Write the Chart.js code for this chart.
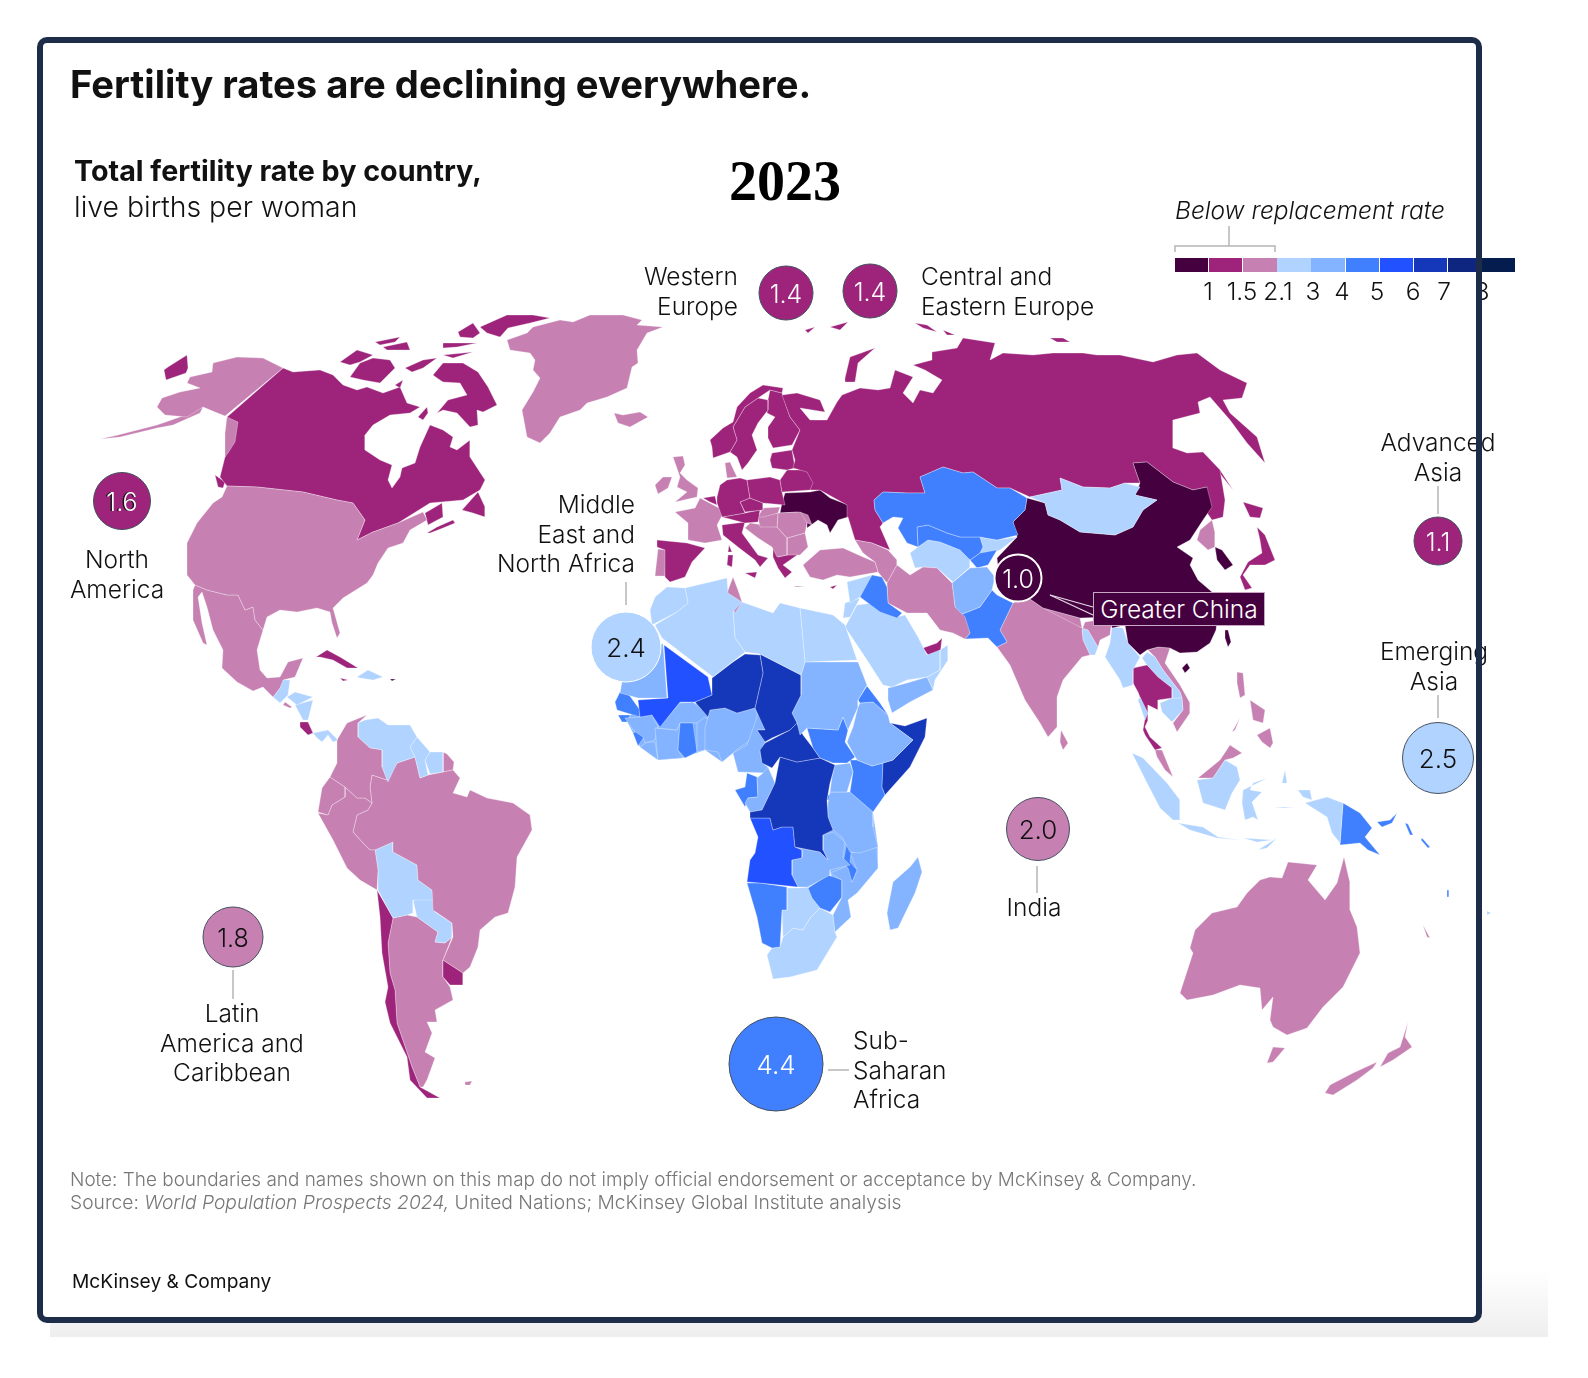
<!DOCTYPE html>
<html>
<head>
<meta charset="utf-8">
<title>Fertility rates are declining everywhere.</title>
<script src="https://cdn.jsdelivr.net/npm/chart.js@4"></script>
<style>
  html, body { margin: 0; padding: 0; background: #fff; }
  body { position: relative; width: 1588px; height: 1378px; overflow: hidden; font-family: Inter, Roboto, sans-serif; color: #111; }
  #fade  { position: absolute; left: 50px; top: 1270px; width: 1498px; height: 67px; background: linear-gradient(#fff, #eee); }
  #paper { position: absolute; left: 37px; top: 37px; width: 1445px; height: 1286px; background: #fff; border-radius: 10px; }
  #frame { position: absolute; left: 37px; top: 37px; width: 1433px; height: 1274px; border: 6px solid #1d2c49; border-radius: 10px; z-index: 5; }
  #map   { position: absolute; left: 0; top: 0; }
  .t     { position: absolute; white-space: nowrap; z-index: 3; font-size: 24.5px; line-height: 29.5px; font-weight: 300; }
  .swatch { position: absolute; top: 258px; height: 14px; z-index: 2; }
</style>
</head>
<body>
<div id="fade"></div>
<div id="paper"></div>
<canvas id="map" width="1588" height="1378"></canvas>
<div id="frame"></div>

<div class="t" style="left:70px;top:60px;font-size:38.2px;line-height:48px;font-weight:700">Fertility rates are declining everywhere.</div>
<div class="t" style="left:74px;top:154px;font-size:28.7px;line-height:34px;font-weight:700">Total fertility rate by country,</div>
<div class="t" style="left:74px;top:190px;font-size:28.4px;line-height:34px">live births per woman</div>
<div class="t" style="left:729px;top:148px;font-family:'Liberation Serif';font-size:56px;line-height:66px;font-weight:700;color:#000">2023</div>
<div class="t" style="left:1175px;top:196px;font-style:italic">Below replacement rate</div>

<div class="t" style="right:850px;top:262px;text-align:right">Western<br>Europe</div>
<div class="t" style="left:921px;top:262px">Central and<br>Eastern Europe</div>
<div class="t" style="left:17px;width:200px;top:545px;text-align:center">North<br>America</div>
<div class="t" style="right:953px;top:490px;text-align:right">Middle<br>East and<br>North Africa</div>
<div class="t" style="left:132px;width:200px;top:999px;text-align:center">Latin<br>America and<br>Caribbean</div>
<div class="t" style="left:853px;top:1026px">Sub-<br>Saharan<br>Africa</div>
<div class="t" style="left:984px;width:100px;top:893px;text-align:center">India</div>
<div class="t" style="left:1338px;width:200px;top:428px;text-align:center">Advanced<br>Asia</div>
<div class="t" style="left:1334px;width:200px;top:637px;text-align:center">Emerging<br>Asia</div>

<div class="t" style="left:1093px;top:592px;width:170px;height:32px;line-height:32px;background:#45003f;border:1px solid #c9a8c4;color:#fff;text-align:center">Greater China</div>

<div class="t" style="left:70px;top:1168px;font-size:18.95px;line-height:23px;color:#777">Note: The boundaries and names shown on this map do not imply official endorsement or acceptance by McKinsey &amp; Company.<br><span style="font-size:19.25px">Source: <i>World Population Prospects 2024,</i> United Nations; McKinsey Global Institute analysis</span></div>
<div class="t" style="left:72px;top:1269px;font-size:19.2px;line-height:24px;font-weight:400">McKinsey &amp; Company</div>

<script>
// legend classes: upper bound of each class, colour of each class
const rateBreaks = [1, 1.5, 2.1, 3, 4, 5, 6, 7, 8, Infinity];
const rateColors = ['#45003f', '#9e237b', '#c680b2', '#b0d3ff', '#84b4ff', '#4080ff', '#2251ff', '#1537ba', '#0f2680', '#051c4f'];
const legendTicks = ['1', '1.5', '2.1', '3', '4', '5', '6', '7', '8'];
const legendTickX = [1208, 1242, 1278, 1313, 1342, 1377, 1413, 1444, 1482];

// regional averages, bubble centre and radius are in map units
const regionNames = ['North America', 'Latin America and Caribbean', 'Middle East and North Africa', 'Sub-Saharan Africa', 'India', 'Emerging Asia', 'Advanced Asia', 'Greater China', 'Western Europe', 'Central and Eastern Europe'];
const regionRates = [1.6, 1.8, 2.4, 4.4, 2.0, 2.5, 1.1, 1.0, 1.4, 1.4];
const regionClass = [1, 2, 3, 5, 2, 3, 1, 0, 1, 1];
const regionX = [122, 233, 626, 776, 1038, 1438, 1438, 1018, 786, 870];
const regionY = [501, 937, 647, 1064, 829, 758, 541, 578, 293, 291];
const regionR = [28.5, 30, 35, 47, 31.5, 35.5, 24, 23.5, 27, 27];

const leaderLines = [
  [[626, 582], [626, 605]], [[1438, 695], [1438, 718]], [[1438, 486], [1438, 514]],
  [[1037, 866], [1037, 893]], [[233, 970], [233, 999]], [[828, 1070], [849, 1070]]
];
const chinaLeaders = [[[1050, 595], [1093, 607]], [[1050, 595], [1093, 615]]];
const bracket = [[1175, 252], [1175, 246], [1275, 246], [1275, 252]];
const bracketStem = [[1229, 246], [1229, 226]];

// land under the small African states, so their outlines leave no gaps
const westAfricaLand = [[625,718],[658,700],[765,710],[765,770],[738,772],[733,753],[722,762],[705,750],[683,758],[658,760],[640,747],[633,733]];
const eastAfricaLand = [[830,792],[850,792],[873,812],[878,847],[878,868],[857,893],[842,897],[830,873],[823,835]];

// country outlines, traced in map units
const alaska = [[283,368],[263,358],[237,357],[213,363],[212,372],[190,377],[187,383],[200,388],[180,392],[162,398],[157,407],[165,415],[187,417],[203,407],[215,412],[225,416]];
const aleutians = [[203,407],[180,417],[157,425],[118,435],[100,439],[120,437],[157,428],[173,425],[200,413]];
const panhandle = [[227,417],[238,422],[235,442],[228,453],[225,457],[225,433]];
const chukotka = [[164,370],[168,367],[187,355],[188,368],[186,373],[166,380]];
const canada = [[283,368],[293,372],[320,370],[333,375],[343,385],[357,390],[367,387],[383,393],[400,387],[407,403],[420,407],[410,413],[390,415],[373,425],[365,435],[365,450],[380,460],[392,465],[388,480],[392,488],[400,477],[402,468],[415,463],[420,447],[430,425],[443,430],[453,437],[450,447],[457,450],[470,440],[470,457],[485,480],[480,490],[463,500],[430,503],[398,523],[373,532],[357,540],[365,520],[353,503],[337,500],[303,492],[257,487],[227,486],[220,477],[225,457],[227,417]];
const vancouver = [[215,475],[225,482],[223,488],[218,487]];
const newfoundland = [[462,510],[478,492],[485,507],[485,517],[473,513]];
const novaScotia = [[427,533],[437,527],[453,520],[455,523],[443,528],[430,533]];
const newBrunswick = [[425,513],[442,503],[443,517],[428,525]];
const ellesmere = [[480,327],[507,315],[533,315],[550,318],[530,323],[508,328],[500,337],[487,333]];
const axelHeiberg = [[458,332],[473,323],[480,333],[473,338],[460,337]];
const devon = [[443,343],[477,343],[457,347],[443,348]];
const melville = [[375,342],[400,337],[395,342],[380,345]];
const bathurst = [[383,347],[407,342],[410,350],[387,350]];
const banks = [[340,362],[357,350],[373,355],[360,362],[350,365]];
const victoria = [[350,377],[360,363],[373,358],[390,360],[395,368],[380,383],[363,380]];
const princeWales = [[405,368],[423,360],[437,358],[423,368],[412,372]];
const somerset = [[443,355],[473,352],[453,358]];
const baffin = [[433,375],[443,363],[463,363],[478,372],[488,387],[497,405],[483,412],[477,410],[478,425],[470,427],[457,413],[443,410],[437,413],[448,400],[467,395],[460,383],[443,382],[437,378]];
const southampton = [[418,417],[427,407],[428,413],[423,420]];
const kingWilliam = [[395,385],[403,380],[400,388]];
const usa = [[227,486],[257,487],[303,492],[337,500],[353,503],[365,520],[357,540],[373,532],[398,523],[423,512],[427,520],[410,530],[403,543],[388,548],[378,563],[373,575],[367,583],[343,598],[333,608],[340,633],[337,638],[332,623],[330,612],[317,608],[297,612],[280,610],[267,617],[263,630],[255,620],[253,607],[245,610],[238,595],[227,595],[207,590],[195,585],[187,575],[187,543],[197,523],[213,503],[222,497]];
const mexico = [[195,585],[207,590],[227,595],[238,595],[245,610],[253,607],[255,620],[263,630],[257,650],[260,670],[267,678],[280,677],[288,662],[303,658],[295,677],[283,680],[280,688],[273,697],[263,687],[253,691],[237,682],[222,668],[223,650],[213,630],[207,607],[202,592],[198,597],[202,623],[207,645],[203,643],[193,620],[193,590]];
const guatemala = [[282,680],[290,680],[288,695],[280,703],[273,697],[280,688]];
const honduras = [[287,697],[295,692],[313,697],[297,705]];
const nicaragua = [[295,705],[313,700],[308,720],[303,720]];
const costaRica = [[300,722],[308,722],[313,733],[308,735],[300,727]];
const panama = [[313,733],[328,730],[338,740],[333,742],[328,735],[322,742],[317,738]];
const salvador = [[285,702],[292,707],[290,708],[283,705]];
const cuba = [[316,657],[327,650],[340,657],[358,668],[347,668],[333,660],[320,657]];
const hispaniola = [[357,677],[368,670],[383,677],[373,680],[360,678]];
const jamaica = [[340,678],[348,680],[343,681]];
const puertoRico = [[390,679],[396,679],[392,681]];
const colombia = [[367,715],[358,723],[358,737],[370,748],[382,750],[382,767],[387,780],[372,775],[370,787],[372,803],[365,798],[357,798],[345,787],[330,777],[337,763],[337,740],[347,723]];
const venezuela = [[358,723],[365,720],[378,718],[388,725],[410,725],[417,737],[410,747],[415,757],[397,763],[388,782],[387,780],[382,767],[382,750],[370,748],[358,737]];
const guyana = [[417,737],[430,752],[425,760],[428,775],[420,778],[415,757],[410,747]];
const suriname = [[430,752],[443,752],[443,772],[430,774],[425,760]];
const ecuador = [[330,777],[345,787],[345,797],[332,805],[328,815],[318,812],[322,788]];
const peru = [[345,787],[357,798],[365,798],[372,803],[368,810],[357,815],[353,832],[363,843],[370,850],[375,850],[378,870],[377,890],[360,880],[347,868],[333,840],[318,813],[328,815],[332,805],[345,797]];
const brazil = [[387,780],[397,763],[415,757],[420,778],[428,775],[443,772],[453,770],[460,778],[453,793],[467,797],[470,790],[487,798],[513,803],[530,815],[532,830],[517,857],[515,887],[508,913],[495,917],[480,930],[478,947],[470,967],[463,973],[443,960],[453,937],[452,923],[433,910],[432,890],[418,880],[417,865],[393,852],[393,842],[375,850],[370,850],[363,843],[353,832],[357,815],[368,810],[372,803],[370,787],[372,775]];
const frenchGuiana = [[443,772],[453,770],[454,762],[447,754],[443,752]];
const bolivia = [[375,850],[393,842],[393,852],[417,865],[418,880],[432,890],[433,900],[413,900],[413,913],[407,915],[393,918],[378,890],[378,870]];
const paraguay = [[413,900],[432,897],[435,912],[452,923],[452,937],[445,943],[435,942],[438,932],[417,917]];
const uruguay = [[443,960],[463,973],[463,985],[450,985],[443,977]];
const chile = [[377,890],[393,918],[388,943],[390,973],[395,990],[397,1023],[412,1067],[420,1087],[440,1098],[427,1098],[410,1080],[407,1057],[390,1023],[385,1002],[388,987],[382,953],[380,917]];
const argentina = [[393,918],[407,915],[417,917],[438,932],[435,942],[445,943],[452,937],[443,960],[443,977],[450,987],[453,1000],[435,1010],[437,1022],[427,1022],[432,1033],[425,1052],[435,1058],[427,1080],[423,1087],[420,1087],[412,1067],[397,1023],[395,990],[390,973],[388,943]];
const falklands = [[465,1082],[472,1081],[470,1085],[466,1085]];
const morocco = [[650,610],[655,597],[667,587],[685,588],[688,603],[677,612],[652,625]];
const algeria = [[685,588],[727,578],[728,593],[742,602],[733,612],[735,638],[745,652],[713,677],[662,638],[655,625],[677,612],[688,603]];
const tunisia = [[727,593],[733,577],[738,590],[742,602],[735,613]];
const libya = [[742,602],[773,613],[780,603],[800,608],[805,662],[801,675],[760,654],[745,652],[735,638],[733,612]];
const egypt = [[800,608],[833,615],[845,625],[857,660],[805,662]];
const mauritania = [[663,643],[667,698],[638,698],[620,693],[622,682]];
const mali = [[664,645],[708,677],[712,695],[695,702],[680,702],[668,717],[660,727],[652,715],[640,717],[638,700],[668,698]];
const niger = [[745,654],[760,655],[763,673],[755,708],[737,713],[725,708],[710,710],[708,717],[695,702],[712,695],[712,678],[733,662]];
const chad = [[760,654],[801,675],[801,695],[792,713],[797,723],[790,730],[772,738],[765,742],[757,730],[765,730],[755,708],[763,673]];
const sudan = [[805,662],[858,662],[867,685],[858,700],[858,707],[848,730],[843,717],[838,730],[807,728],[800,735],[797,723],[792,713],[801,695],[801,675]];
const eritrea = [[867,686],[880,703],[888,715],[873,702],[860,703],[858,700]];
const ethiopia = [[860,703],[873,702],[888,715],[890,723],[913,740],[893,760],[883,763],[872,766],[857,760],[847,742],[853,727],[858,707]];
const somalia = [[890,723],[905,726],[927,718],[925,737],[910,767],[885,795],[882,787],[883,763],[893,760],[913,740]];
const southSudan = [[807,728],[838,730],[843,717],[848,730],[845,742],[855,757],[847,763],[833,763],[820,758],[813,748]];
const car = [[765,743],[790,730],[797,723],[803,735],[813,748],[820,758],[797,762],[780,757],[772,768],[762,763],[760,750]];
const drc = [[780,757],[797,762],[820,758],[835,765],[830,783],[827,800],[828,817],[833,830],[823,835],[823,850],[828,860],[820,852],[795,847],[793,827],[782,827],[773,830],[770,818],[750,818],[750,812],[762,810],[775,783]];
const congo = [[768,767],[775,783],[762,810],[750,812],[745,803],[748,798],[758,797],[757,778],[763,773]];
const gabon = [[735,790],[745,787],[747,773],[757,777],[758,797],[748,798],[745,807]];
const cameroon = [[733,753],[747,745],[755,723],[758,713],[765,730],[757,730],[765,742],[760,752],[762,763],[768,767],[767,773],[738,772],[737,768]];
const nigeria = [[705,728],[710,710],[725,708],[737,713],[755,708],[760,723],[748,742],[740,747],[733,753],[722,762],[718,752],[705,750]];
const benin = [[697,723],[705,717],[710,720],[705,750],[697,752]];
const ghana = [[680,723],[693,723],[697,752],[685,758],[678,750]];
const burkina = [[668,717],[680,703],[693,702],[710,717],[697,723],[680,723],[677,730],[657,728]];
const ivoryCoast = [[655,728],[677,730],[680,723],[678,750],[683,758],[658,760],[657,750]];
const guinea = [[625,718],[640,717],[652,715],[658,727],[655,740],[645,743],[643,737],[633,730]];
const sierraLeone = [[633,733],[640,730],[644,737],[638,746]];
const liberia = [[640,747],[647,742],[655,742],[658,760]];
const senegal = [[620,692],[627,692],[640,710],[640,717],[617,710],[615,702]];
const guineaBissau = [[618,715],[630,715],[627,722],[622,722]];
const uganda = [[835,765],[850,763],[853,772],[847,792],[830,792],[832,777]];
const kenya = [[850,760],[857,760],[872,766],[883,763],[882,787],[885,795],[873,812],[850,792],[853,772]];
const tanzania = [[830,792],[850,792],[873,812],[873,827],[878,847],[860,853],[850,852],[842,837],[833,830],[828,817],[828,803]];
const rwanda = [[828,795],[835,793],[833,800],[827,800]];
const angola = [[750,818],[770,818],[773,830],[782,827],[793,827],[795,847],[802,850],[802,858],[792,860],[792,875],[798,887],[760,883],[747,882],[750,860],[755,853],[758,837]];
const zambia = [[795,847],[820,852],[828,860],[823,850],[823,835],[833,832],[845,842],[843,858],[850,865],[830,870],[830,875],[817,882],[808,887],[798,887],[792,875],[792,860],[802,858],[802,850]];
const malawi = [[847,842],[852,843],[850,862],[857,870],[852,882],[848,868],[843,863]];
const mozambique = [[850,853],[877,847],[878,868],[857,893],[848,900],[851,917],[835,932],[833,915],[842,897],[842,880],[830,873],[850,865],[852,882],[857,870]];
const zimbabwe = [[808,888],[828,875],[842,880],[842,897],[830,912],[820,908],[812,898]];
const namibia = [[747,883],[760,883],[787,887],[787,910],[782,910],[780,947],[772,948],[762,943],[757,917]];
const botswana = [[787,888],[798,888],[808,887],[812,898],[820,908],[810,918],[803,930],[793,928],[783,937],[782,910],[787,910]];
const southAfrica = [[783,937],[793,928],[803,930],[810,918],[820,908],[833,915],[835,932],[837,937],[817,970],[790,977],[773,979],[767,955],[772,948],[780,947]];
const lesotho = [[811,953],[817,948],[821,953],[815,959]];
const madagascar = [[918,857],[922,872],[915,893],[898,928],[890,930],[887,913],[893,882],[910,867]];
const iraq = [[872,575],[882,577],[887,587],[888,603],[902,613],[897,618],[880,612],[860,597]];
const syria = [[847,582],[872,575],[867,587],[860,597],[850,603]];
const jordan = [[845,603],[860,598],[850,617],[843,618]];
const saudi = [[845,627],[857,605],[873,603],[897,617],[905,615],[918,637],[927,655],[940,650],[940,670],[927,677],[907,680],[892,687],[883,685],[867,660]];
const yemen = [[888,688],[907,683],[927,677],[933,690],[910,702],[892,713],[888,700]];
const oman = [[927,677],[940,670],[940,650],[948,645],[948,660],[935,680],[933,690]];
const uae = [[923,648],[937,643],[942,638],[940,655],[928,655]];
const iran = [[887,583],[897,565],[910,575],[923,567],[937,568],[952,583],[955,607],[965,617],[970,633],[965,639],[953,633],[940,630],[927,613],[907,613],[888,603]];
const turkey = [[803,565],[820,550],[843,548],[863,557],[875,562],[878,572],[850,577],[837,575],[823,580],[810,577]];
const caucasus = [[855,540],[872,543],[888,550],[897,560],[897,565],[887,583],[878,572],[875,562],[863,553]];
const kazakhstan = [[874,500],[883,492],[907,493],[925,493],[920,477],[943,467],[963,473],[973,472],[997,488],[1010,488],[1027,498],[1025,510],[1013,522],[1018,535],[997,540],[980,537],[960,537],[947,533],[928,525],[917,527],[918,547],[907,543],[898,528],[903,518],[893,517],[883,523],[875,510]];
const uzbekistan = [[917,527],[928,525],[947,533],[960,537],[980,537],[983,547],[980,553],[970,560],[960,550],[940,542],[928,540],[918,547]];
const turkmenistan = [[910,553],[918,547],[928,540],[940,542],[960,550],[970,560],[970,567],[953,582],[937,568],[923,567],[915,568]];
const afghanistan = [[952,583],[970,568],[987,567],[995,577],[992,590],[980,607],[960,615],[955,607]];
const pakistan = [[960,615],[980,607],[992,590],[997,595],[1013,603],[1000,630],[1007,642],[997,647],[988,638],[965,639],[970,633]];
const tajikistan = [[970,560],[980,553],[997,550],[988,565],[977,568]];
const kyrgyzstan = [[980,537],[997,540],[1017,537],[1000,550],[978,557],[983,547]];
const mongolia = [[1030,497],[1062,490],[1060,478],[1083,487],[1110,488],[1125,483],[1140,487],[1135,495],[1157,500],[1143,510],[1133,527],[1115,535],[1080,532],[1060,520],[1048,515],[1045,503]];
const china = [[1027,498],[1045,503],[1048,515],[1060,520],[1080,532],[1115,535],[1133,527],[1143,510],[1157,500],[1135,495],[1140,483],[1133,463],[1147,462],[1173,482],[1193,490],[1207,487],[1212,507],[1203,520],[1190,540],[1177,547],[1193,558],[1190,565],[1198,580],[1212,592],[1217,620],[1216,630],[1210,643],[1197,652],[1180,653],[1170,648],[1158,647],[1147,650],[1140,655],[1128,643],[1125,625],[1112,628],[1110,617],[1080,618],[1043,608],[1027,597],[1017,600],[1000,583],[997,558],[1017,537],[1013,522],[1025,510]];
const russia = [[792,450],[800,430],[790,417],[782,395],[797,393],[820,400],[825,412],[800,408],[810,420],[827,420],[837,402],[842,395],[860,388],[878,390],[890,388],[895,370],[913,377],[903,393],[913,403],[920,390],[933,393],[942,380],[925,370],[913,365],[932,360],[932,352],[957,348],[963,338],[995,343],[990,360],[1003,353],[1033,355],[1053,353],[1083,353],[1097,355],[1120,355],[1153,362],[1177,355],[1197,353],[1220,370],[1247,383],[1242,398],[1223,400],[1230,413],[1257,437],[1265,463],[1247,443],[1230,420],[1210,397],[1198,402],[1200,413],[1173,420],[1173,448],[1187,453],[1203,452],[1220,470],[1225,500],[1223,517],[1212,520],[1203,507],[1207,487],[1193,490],[1173,482],[1147,462],[1133,463],[1140,483],[1125,483],[1110,488],[1083,487],[1060,478],[1062,490],[1030,497],[1010,488],[997,488],[973,472],[963,473],[943,467],[920,477],[925,493],[907,493],[883,492],[874,500],[875,510],[883,523],[880,527],[890,550],[872,543],[855,540],[848,517],[847,505],[820,490],[810,490],[813,483],[807,472],[793,468],[795,460]];
const novayaZemlya = [[845,378],[850,357],[875,348],[858,363],[855,382],[845,382]];
const svalbard = [[805,330],[815,327],[808,333]];
const svalbardEast = [[830,327],[848,322],[840,330]];
const severnaya = [[915,323],[927,325],[937,332],[923,328]];
const severnayaEast = [[943,330],[955,335],[947,335]];
const newSiberian = [[1050,338],[1063,338],[1070,342],[1057,342]];
const sakhalin = [[1202,452],[1220,470],[1233,490],[1217,470]];
const india = [[997,647],[1010,665],[1025,700],[1040,723],[1048,737],[1057,727],[1057,697],[1063,680],[1082,657],[1090,655],[1083,640],[1082,630],[1085,622],[1112,618],[1110,635],[1100,640],[1098,647],[1088,630],[1082,628],[1043,608],[1027,597],[1013,603],[1000,630],[1007,642]];
const nepal = [[1043,608],[1080,618],[1082,628],[1043,613]];
const bangladesh = [[1082,628],[1088,630],[1098,647],[1095,655],[1090,655],[1083,640]];
const myanmar = [[1112,627],[1123,628],[1128,643],[1140,657],[1133,670],[1133,685],[1123,688],[1120,680],[1105,657],[1110,643]];
const myanmarTail = [[1140,697],[1148,713],[1145,720],[1138,700]];
const sriLanka = [[1061,730],[1068,743],[1063,750],[1060,742]];
const thailand = [[1133,668],[1147,665],[1158,677],[1172,688],[1172,698],[1158,700],[1158,710],[1148,705],[1148,720],[1145,727],[1150,737],[1162,748],[1155,750],[1145,735],[1143,730],[1146,713],[1138,692],[1133,683]];
const laos = [[1142,658],[1147,652],[1155,657],[1163,670],[1180,692],[1182,698],[1172,698],[1172,688],[1158,677],[1147,665]];
const cambodia = [[1160,703],[1172,698],[1182,698],[1183,710],[1172,722],[1162,712]];
const vietnam = [[1148,650],[1158,647],[1170,648],[1165,663],[1180,685],[1190,703],[1190,713],[1177,732],[1173,723],[1183,710],[1182,698],[1180,692],[1163,670],[1155,657]];
const malaya = [[1155,750],[1162,750],[1173,777],[1165,770],[1157,757]];
const sumatra = [[1132,753],[1143,758],[1167,783],[1180,800],[1180,820],[1173,820],[1160,808],[1147,783]];
const java = [[1178,823],[1203,827],[1218,837],[1240,840],[1217,838],[1190,830]];
const sunda = [[1243,838],[1273,840],[1257,842]];
const timor = [[1258,850],[1277,838],[1267,848]];
const kalimantan = [[1197,780],[1213,778],[1225,760],[1237,767],[1240,780],[1232,793],[1225,810],[1203,803]];
const sarawak = [[1198,778],[1220,760],[1230,745],[1242,753],[1233,758],[1225,760],[1213,778]];
const sulawesi = [[1243,790],[1268,778],[1253,783],[1250,790],[1262,792],[1252,802],[1258,820],[1253,817],[1245,820],[1242,803]];
const halmahera = [[1282,783],[1285,770],[1287,783]];
const seram = [[1275,807],[1295,807],[1283,808]];
const birdHead = [[1298,790],[1310,790],[1312,800],[1303,797]];
const papua = [[1305,803],[1327,797],[1343,803],[1340,843],[1332,833],[1327,817]];
const png = [[1343,803],[1360,813],[1372,828],[1365,837],[1380,855],[1368,850],[1360,843],[1340,845]];
const newBritain = [[1377,822],[1390,820],[1397,813],[1392,823],[1382,827]];
const solomons = [[1405,823],[1408,824],[1413,835],[1410,835]];
const solomonsEast = [[1422,838],[1430,847],[1428,848],[1421,840]];
const vanuatu = [[1447,890],[1449,890],[1449,897],[1447,897]];
const fiji = [[1487,911],[1491,913],[1487,915]];
const luzon = [[1237,672],[1243,673],[1245,695],[1240,698],[1237,683]];
const visayas = [[1250,700],[1265,710],[1263,723],[1253,720]];
const mindanao = [[1257,735],[1270,728],[1273,743],[1270,748],[1262,742]];
const palawan = [[1232,732],[1240,718],[1235,730]];
const taiwan = [[1225,630],[1228,630],[1231,642],[1228,647],[1225,638]];
const hainan = [[1182,668],[1187,663],[1190,668],[1185,673]];
const northKorea = [[1200,530],[1212,520],[1215,533],[1215,547],[1208,550],[1197,540]];
const southKorea = [[1215,547],[1222,550],[1233,565],[1225,570],[1217,560]];
const honshu = [[1257,527],[1265,535],[1275,560],[1265,565],[1250,565],[1243,575],[1252,588],[1245,590],[1240,577],[1248,562],[1262,553],[1260,540]];
const hokkaido = [[1243,502],[1263,508],[1260,518],[1250,517]];
const norway = [[710,440],[723,428],[733,422],[737,407],[750,393],[763,385],[783,388],[782,393],[770,390],[758,398],[745,407],[733,427],[737,440],[730,452],[713,458],[712,447]];
const sweden = [[733,427],[745,407],[758,398],[768,400],[768,410],[758,423],[752,435],[757,450],[748,463],[742,470],[737,457],[730,452],[737,440]];
const finland = [[770,390],[782,393],[790,417],[800,430],[792,445],[773,448],[768,438],[768,427],[775,417],[767,413],[768,400]];
const baltics = [[772,453],[792,450],[795,468],[787,470],[772,468],[770,460]];
const belarus = [[787,470],[807,470],[815,485],[810,490],[782,492],[780,480]];
const poland = [[747,480],[770,477],[780,480],[782,492],[785,505],[763,503],[750,498]];
const germany = [[720,485],[727,480],[740,478],[747,480],[750,498],[740,502],[745,513],[722,517],[717,503],[717,497]];
const denmark = [[725,463],[730,462],[737,477],[727,478]];
const czechia = [[740,502],[750,498],[763,503],[763,510],[745,512]];
const austria = [[722,517],[745,513],[760,510],[758,522],[745,523]];
const slovakia = [[763,508],[780,507],[778,513],[763,517],[758,517]];
const hungary = [[758,517],[778,513],[777,527],[760,527]];
const romania = [[778,513],[800,512],[807,523],[805,533],[787,538],[777,527]];
const moldova = [[800,512],[808,515],[812,525],[807,523]];
const balkans = [[750,523],[777,527],[787,538],[787,555],[777,557],[772,547],[758,538],[745,528]];
const bulgaria = [[787,538],[805,533],[808,547],[800,555],[787,555]];
const greece = [[773,547],[778,557],[787,555],[800,553],[783,565],[792,572],[785,578],[778,568],[773,557]];
const ukraine = [[785,493],[810,492],[820,490],[830,498],[848,505],[848,517],[838,520],[830,533],[827,525],[818,520],[807,528],[807,523],[798,512],[780,513],[782,503]];
const france = [[700,498],[717,507],[725,510],[717,525],[722,540],[705,543],[688,540],[688,523],[675,512],[695,508]];
const britain = [[673,457],[683,456],[685,465],[680,473],[687,480],[698,488],[697,497],[675,502],[687,492],[677,487],[680,477]];
const ireland = [[655,485],[663,477],[672,477],[668,488],[658,494]];
const benelux = [[703,498],[715,496],[717,505],[710,502]];
const italy = [[722,525],[745,522],[742,533],[758,555],[768,558],[760,567],[755,560],[738,547],[723,535]];
const sicily = [[745,573],[757,572],[755,578]];
const sardinia = [[728,555],[733,555],[732,567],[727,565]];
const corsica = [[729,545],[732,552],[728,552]];
const spain = [[657,540],[687,543],[705,548],[692,562],[685,577],[670,582],[665,577],[665,550],[657,547]];
const portugal = [[658,549],[666,550],[665,576],[655,576]];
const cyprus = [[830,587],[837,585],[833,589]];
const crete = [[793,586],[805,587],[797,587]];
const greenland = [[507,340],[527,333],[533,327],[560,320],[573,322],[590,315],[623,315],[642,320],[637,325],[663,327],[647,333],[637,350],[638,363],[632,367],[627,388],[607,397],[587,403],[580,410],[560,417],[550,433],[540,443],[527,437],[522,410],[533,392],[540,378],[533,370],[535,360],[530,353],[510,350]];
const iceland = [[614,413],[623,415],[640,412],[648,417],[630,427],[618,423]];
const australia = [[1180,993],[1193,953],[1190,948],[1195,930],[1212,913],[1237,907],[1247,893],[1260,880],[1270,877],[1282,878],[1288,862],[1317,865],[1308,880],[1325,900],[1337,883],[1344,857],[1350,883],[1350,910],[1357,927],[1360,953],[1343,987],[1323,1007],[1307,1028],[1287,1035],[1273,1027],[1270,1020],[1273,997],[1262,1010],[1260,988],[1240,985],[1213,995],[1187,1000]];
const tasmania = [[1273,1047],[1285,1048],[1273,1062],[1267,1063]];
const nzNorth = [[1408,1022],[1405,1037],[1412,1047],[1393,1060],[1380,1067],[1388,1053],[1400,1047]];
const nzSouth = [[1377,1062],[1373,1068],[1357,1080],[1333,1095],[1325,1093],[1330,1085],[1353,1073]];
const newCaledonia = [[1423,925],[1430,938],[1427,937]];

const countryRates = [
  [alaska, 1.7], [aleutians, 1.7], [panhandle, 1.7], [usa, 1.6], [mexico, 1.8], [greenland, 1.8], [iceland, 1.6],
  [chukotka, 1.4], [canada, 1.3], [vancouver, 1.3], [newfoundland, 1.3], [novaScotia, 1.3], [newBrunswick, 1.3],
  [ellesmere, 1.3], [axelHeiberg, 1.3], [devon, 1.3], [melville, 1.3], [bathurst, 1.3], [banks, 1.3], [victoria, 1.3],
  [princeWales, 1.3], [somerset, 1.3], [baffin, 1.3], [southampton, 1.3], [kingWilliam, 1.3],
  [guatemala, 2.3], [honduras, 2.3], [nicaragua, 2.2], [costaRica, 1.2], [panama, 2.2], [salvador, 1.8],
  [cuba, 1.4], [hispaniola, 2.2], [jamaica, 1.3], [puertoRico, 0.9],
  [colombia, 1.6], [venezuela, 2.2], [guyana, 2.3], [suriname, 2.3], [ecuador, 1.9], [peru, 1.9], [brazil, 1.6],
  [frenchGuiana, 1.9], [bolivia, 2.5], [paraguay, 2.4], [uruguay, 1.4], [chile, 1.1], [argentina, 1.7], [falklands, 1.7],
  [morocco, 2.3], [algeria, 2.7], [tunisia, 1.7], [libya, 2.4], [egypt, 2.7], [mauritania, 3.4], [mali, 5.6], [niger, 6.1],
  [chad, 6.1], [sudan, 3.9], [eritrea, 4.6], [ethiopia, 3.9], [somalia, 6.1], [southSudan, 4.2], [car, 6.1], [drc, 6.1],
  [congo, 3.9], [gabon, 4.4], [cameroon, 3.9], [nigeria, 3.9], [benin, 3.9], [ghana, 4.4], [burkina, 3.9], [ivoryCoast, 3.9],
  [guinea, 3.9], [sierraLeone, 4.2], [liberia, 3.9], [senegal, 4.2], [guineaBissau, 4.2], [uganda, 3.9], [kenya, 4.2],
  [tanzania, 3.9], [rwanda, 4.2], [angola, 5.2], [zambia, 3.9], [malawi, 4.2], [mozambique, 3.9], [zimbabwe, 4.2],
  [namibia, 4.2], [botswana, 2.7], [southAfrica, 2.3], [lesotho, 2.7], [madagascar, 3.7],
  [iraq, 4.2], [syria, 2.7], [jordan, 2.7], [saudi, 2.2], [yemen, 3.7], [oman, 2.5], [uae, 1.2], [iran, 1.7], [turkey, 1.6], [caucasus, 1.7],
  [kazakhstan, 4.1], [uzbekistan, 4.1], [turkmenistan, 2.6], [afghanistan, 3.8], [pakistan, 4.1], [tajikistan, 4.1], [kyrgyzstan, 2.7], [mongolia, 2.7],
  [china, 1.0], [taiwan, 0.9], [hainan, 1.0], [southKorea, 0.7], [northKorea, 1.8],
  [russia, 1.4], [novayaZemlya, 1.4], [svalbard, 1.4], [svalbardEast, 1.4], [severnaya, 1.4], [severnayaEast, 1.4], [newSiberian, 1.4], [sakhalin, 1.4],
  [india, 2.0], [nepal, 1.9], [bangladesh, 2.2], [myanmar, 2.2], [myanmarTail, 2.2], [sriLanka, 1.9],
  [thailand, 1.2], [laos, 2.5], [cambodia, 2.5], [vietnam, 1.9], [malaya, 1.6], [sumatra, 2.2], [java, 2.2], [sunda, 2.2], [timor, 2.2],
  [kalimantan, 2.2], [sarawak, 1.6], [sulawesi, 2.2], [halmahera, 2.2], [seram, 2.2], [birdHead, 2.2], [papua, 2.2],
  [png, 4.1], [newBritain, 4.1], [solomons, 4.1], [solomonsEast, 4.1], [vanuatu, 4.1], [fiji, 2.5],
  [luzon, 1.9], [visayas, 1.9], [mindanao, 1.9], [palawan, 1.9], [honshu, 1.2], [hokkaido, 1.2],
  [norway, 1.4], [sweden, 1.4], [finland, 1.3], [baltics, 1.4], [belarus, 1.4], [poland, 1.2], [germany, 1.4], [denmark, 1.6],
  [czechia, 1.4], [austria, 1.3], [slovakia, 1.6], [hungary, 1.6], [romania, 1.7], [moldova, 1.8], [balkans, 1.6], [bulgaria, 1.8],
  [greece, 1.3], [ukraine, 1.0], [france, 1.6], [britain, 1.6], [ireland, 1.6], [benelux, 1.4], [italy, 1.2], [sicily, 1.2],
  [sardinia, 1.2], [corsica, 1.2], [spain, 1.1], [portugal, 1.6], [cyprus, 1.3], [crete, 1.3],
  [australia, 1.6], [tasmania, 1.6], [nzNorth, 1.6], [nzSouth, 1.6], [newCaledonia, 1.9]
];
const landRates = [[westAfricaLand, 3.9], [eastAfricaLand, 3.9]];

function rateColor(rate) {
  return rateColors[rateBreaks.findIndex(b => rate <= b)];
}

function toPoints(list) {
  return list.map(p => ({ x: p[0], y: p[1] }));
}

function shapeDataset(shape, rate, order = 3) {
  return {
    type: 'scatter',
    data: toPoints(shape.concat([shape[0]])),
    showLine: true,
    fill: 'shape',
    tension: 0,
    backgroundColor: rateColor(rate),
    borderColor: 'rgba(255,255,255,0.5)',
    borderWidth: 0.6,
    pointRadius: 0,
    order
  };
}

function lineDataset(points, color, width) {
  return {
    type: 'scatter',
    data: toPoints(points),
    showLine: true,
    fill: false,
    borderColor: color,
    borderWidth: width,
    pointRadius: 0,
    order: 2
  };
}

const regionBubbles = {
  type: 'bubble',
  data: regionRates.map((v, i) => ({ x: regionX[i], y: regionY[i], r: regionR[i] })),
  backgroundColor: regionClass.map(c => rateColors[c]),
  borderColor: regionNames.map(n => (n === 'Greater China' || n.startsWith('Middle')) ? '#fff' : '#45505f'),
  borderWidth: regionNames.map(n => n === 'Greater China' ? 2 : 1),
  order: 1
};

// value printed in each bubble, placed with the chart's own scales
const bubbleLabels = {
  id: 'bubbleLabels',
  afterDatasetsDraw(chart) {
    const { ctx, scales } = chart;
    ctx.save();
    ctx.textAlign = 'center';
    ctx.textBaseline = 'middle';
    regionRates.forEach((v, i) => {
      ctx.font = '300 ' + (regionR[i] > 30 ? 26 : 25) + 'px Inter';
      ctx.fillStyle = regionClass[i] < 2 || regionClass[i] > 4 ? '#fff' : '#111';
      // the North America figure is printed doubled in the original
      ctx.shadowColor = i === 0 ? '#111' : 'transparent';
      ctx.shadowOffsetX = i === 0 ? -1.5 : 0;
      ctx.fillText(v.toFixed(1), scales.x.getPixelForValue(regionX[i]), scales.y.getPixelForValue(regionY[i]) + 2);
    });
    ctx.restore();
  }
};

// colour bar of the legend
rateColors.forEach((c, i) => {
  const s = document.createElement('div');
  s.className = 'swatch';
  s.style.left = (1175 + i * 34.1) + 'px';
  s.style.width = '33.4px';
  s.style.background = c;
  document.body.appendChild(s);
});
legendTicks.forEach((label, i) => {
  const t = document.createElement('div');
  t.className = 't';
  t.style.left = (legendTickX[i] - 30) + 'px';
  t.style.width = '60px';
  t.style.textAlign = 'center';
  t.style.top = '277px';
  t.textContent = label;
  document.body.appendChild(t);
});

new Chart(document.getElementById('map'), {
  data: {
    datasets: [
      ...landRates.map(c => shapeDataset(c[0], c[1], 4)),
      ...countryRates.map(c => shapeDataset(c[0], c[1])),
      ...leaderLines.map(l => lineDataset(l, '#b5b5b5', 1.5)),
      ...chinaLeaders.map(l => lineDataset(l, '#e8dbe6', 1.2)),
      lineDataset(bracket, '#b5b5b5', 1.5),
      lineDataset(bracketStem, '#b5b5b5', 1.5),
      regionBubbles
    ]
  },
  options: {
    responsive: false,
    animation: false,
    events: [],
    layout: { padding: 0, autoPadding: false },
    plugins: { legend: { display: false }, tooltip: { enabled: false }, filler: { propagate: false } },
    scales: {
      x: { type: 'linear', min: 0, max: 1588, display: false },
      y: { type: 'linear', min: 0, max: 1378, reverse: true, display: false }
    }
  },
  plugins: [bubbleLabels]
});
</script>
</body>
</html>
